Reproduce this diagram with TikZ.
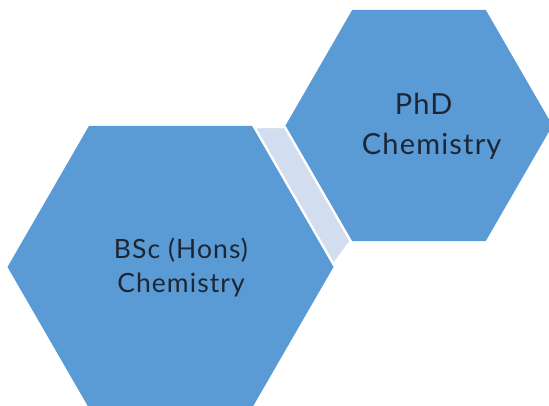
\documentclass[tikz,border=0pt]{standalone}
\usepackage{fontspec}
\setmainfont{Lato}[LetterSpace=4]
\usepackage{xcolor}
\usetikzlibrary{shapes.geometric,backgrounds,positioning}
\definecolor{color_hexagon}{RGB}{91, 155, 213}
\definecolor{color_bridge}{RGB}{210, 222, 239}
\definecolor{color_text}{RGB}{28, 38, 52}

\begin{document}
\begin{tikzpicture}[
    x=1pt, y=1pt,
    hexagon/.style={regular polygon,regular polygon sides=6,fill=color_hexagon,inner sep=0pt,outer sep=0pt},
    hexlabel/.style={align=center,text=color_text,inner sep=0pt},
    bridge/.style={fill=color_bridge,draw=white,line width=5pt,line join=miter}
]
    % page is 549 x 405, origin at the bottom left
    \useasboundingbox (0,0) rectangle (549,405);
    \clip (0,0) rectangle (549,405);

    % the two hexagons
    \node[hexagon,minimum size=326pt] (bsc) at (170.5,138) {};
    \node[hexagon,minimum size=267pt] (phd) at (419,279.5) {};

    \node[hexlabel,font=\fontsize{26.5}{34.5}\selectfont] (bsc label)
        at ([xshift=10.5pt,yshift=-0.5pt]bsc.center) {BSc (Hons)\\Chemistry};
    \node[hexlabel,font=\fontsize{29}{40}\selectfont] (phd label)
        at ([xshift=12.7pt,yshift=-1pt]phd.center) {PhD\hspace*{16pt}\\Chemistry};

    % band between the hexagons, white edge leaves the gap
    \begin{scope}[on background layer]
        \draw[bridge] (bsc.60) -- (phd.180) -- (phd.240) -- (bsc.0) -- cycle;
    \end{scope}

\end{tikzpicture}
\end{document}
